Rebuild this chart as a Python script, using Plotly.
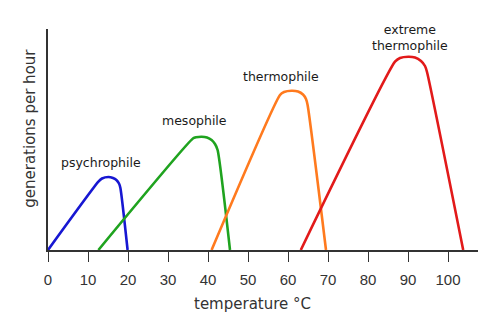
import plotly.graph_objects as go

# Growth-rate curves (temperature in °C, relative generations per hour)
psychro_t = [0, 12.6, 13.5, 15.1, 16.25, 17.1, 17.75, 18.1, 19.9]
psychro_g = [0, 68.3, 71.5, 73.0, 72.0, 70.0, 66.5, 62.0, 0]

meso_t = [12.6, 36.3, 37.0, 38.4, 39.75, 40.9, 41.75, 42.4, 45.5]
meso_g = [0, 111.7, 112.7, 113.3, 112.5, 110.0, 106.0, 100.0, 0]

thermo_t = [40.9, 58.0, 59.0, 60.9, 62.5, 63.75, 64.5, 64.9, 69.5]
thermo_g = [0, 155.0, 158.0, 159.3, 158.5, 155.5, 151.0, 145.0, 0]

extreme_t = [63.2, 86.75, 88.0, 90.1, 91.75, 93.25, 94.25, 94.75, 103.8]
extreme_g = [0, 188.3, 192.0, 193.3, 192.5, 189.0, 184.0, 178.0, 0]

series_names = ["psychrophile", "mesophile", "thermophile", "extreme<br>thermophile"]
series_colors = ["#1717d2", "#1fa31f", "#ff7a1e", "#e21a1a"]
label_t = [13.2, 36.5, 58.3, 90.5]
label_g = [88, 130, 174, 213]

x_ticks = [0, 10, 20, 30, 40, 50, 60, 70, 80, 90, 100]

fig = go.Figure()
for (t, g), color in zip(
    [(psychro_t, psychro_g), (meso_t, meso_g), (thermo_t, thermo_g), (extreme_t, extreme_g)],
    series_colors,
):
    fig.add_trace(go.Scatter(
        x=t, y=g, mode="lines",
        line=dict(color=color, width=2.6, shape="spline", smoothing=0.6),
        showlegend=False, hoverinfo="skip",
    ))

for name, tx, gy in zip(series_names, label_t, label_g):
    fig.add_annotation(
        x=tx, y=gy, text=name, showarrow=False,
        font=dict(family="DejaVu Sans", size=12.5, color="#1a1a1a"),
        xanchor="center", yanchor="middle",
    )

axis_font = dict(family="DejaVu Sans", size=15, color="#333333")
fig.add_annotation(
    xref="paper", yref="paper", x=0.475, y=-0.245,
    text="temperature °C", showarrow=False, font=axis_font,
    xanchor="center", yanchor="middle",
)
fig.add_annotation(
    xref="paper", yref="paper", x=-0.042, y=0.553,
    text="generations per hour", showarrow=False, font=axis_font,
    textangle=-90, xanchor="center", yanchor="middle",
)

fig.update_xaxes(
    range=[0, 107.5], tickvals=x_ticks, ticktext=[str(v) for v in x_ticks],
    ticks="outside", ticklen=10, tickwidth=1.4, tickcolor="#333333",
    ticklabelstandoff=5,
    showline=True, linecolor="#333333", linewidth=1.6,
    showgrid=False, zeroline=False,
    tickfont=dict(family="Liberation Sans", size=15, color="#333333"),
)
fig.update_yaxes(
    range=[0, 221], showticklabels=False, ticks="",
    showline=True, linecolor="#333333", linewidth=1.6,
    showgrid=False, zeroline=False,
)
fig.update_layout(
    width=500, height=328,
    margin=dict(l=48, r=22, t=29, b=78),
    paper_bgcolor="white", plot_bgcolor="white",
)

fig.write_html("out.html")
